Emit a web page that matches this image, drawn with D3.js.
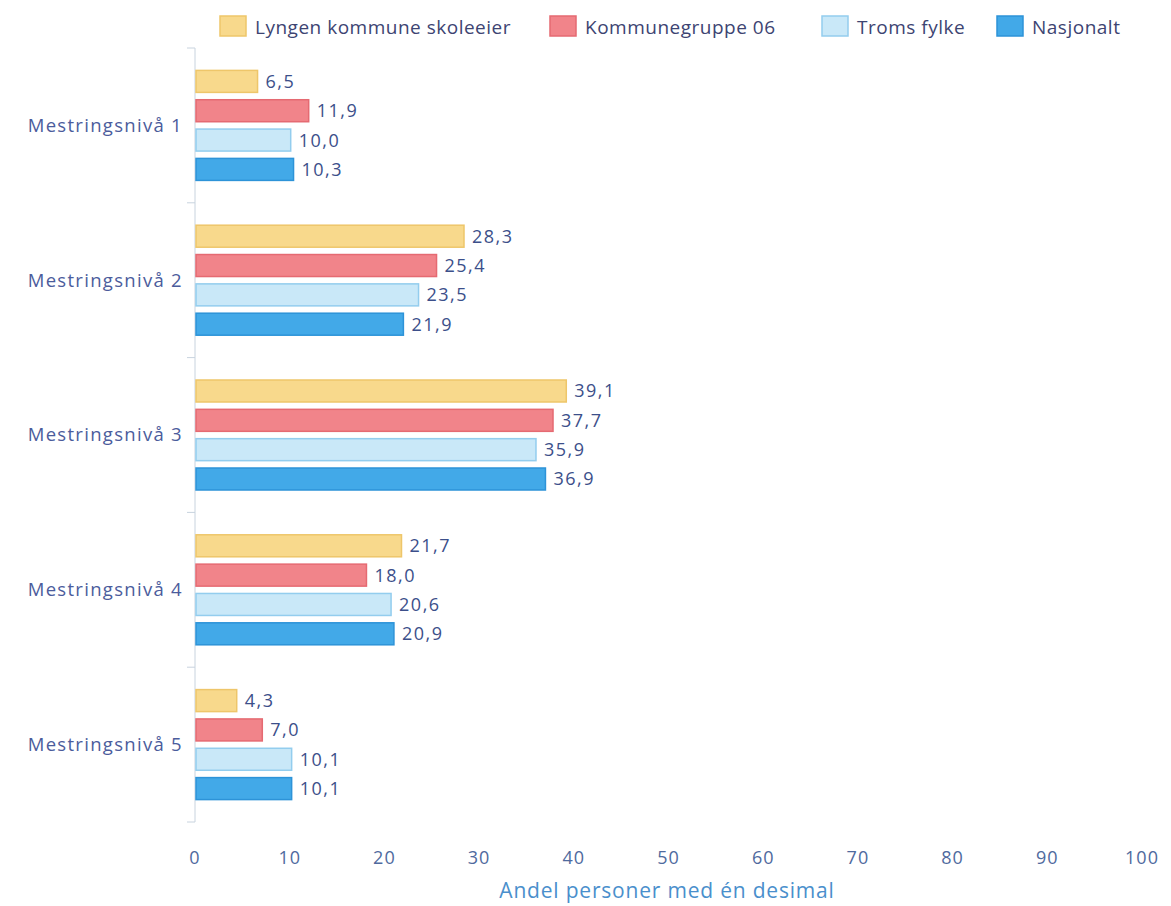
<!DOCTYPE html>
<html><head><meta charset="utf-8">
<script src="https://cdn.jsdelivr.net/npm/d3@7"></script>
<style>body{margin:0;background:#fff}svg{display:block}text{font-family:"Open Sans",sans-serif}</style>
</head><body><svg id="c" width="1171" height="906"></svg>
<script>
const categories=["Mestringsnivå 1","Mestringsnivå 2","Mestringsnivå 3","Mestringsnivå 4","Mestringsnivå 5"];
const seriesNames=["Lyngen kommune skoleeier","Kommunegruppe 06","Troms fylke","Nasjonalt"];
const lyngen=[6.5,28.3,39.1,21.7,4.3];
const kommunegruppe=[11.9,25.4,37.7,18.0,7.0];
const troms=[10.0,23.5,35.9,20.6,10.1];
const nasjonalt=[10.3,21.9,36.9,20.9,10.1];
const xTicks=[0,10,20,30,40,50,60,70,80,90,100];
const xTitle="Andel personer med én desimal";

const series=[lyngen,kommunegruppe,troms,nasjonalt];
const fills=["#f8d98c","#f1848a","#c9e8f8","#42a9e8"];
const strokes=["#eec66a","#e56a72","#93cdee","#2d93d8"];

const svg=d3.select("#c");
const x=d3.scaleLinear().domain([0,100]).range([195,1142]);
const y=d3.scaleBand().domain(categories).range([48,822]);
const inner=d3.scaleBand().domain(d3.range(4)).range([y.bandwidth()/2-55,y.bandwidth()/2+55]).paddingInner(0.25);

svg.append("line").attr("x1",x(0)).attr("x2",x(0)).attr("y1",48).attr("y2",822).attr("stroke","#c8d3de").attr("stroke-width",1);
const bounds=categories.map(c=>y(c)).concat([822]);
svg.selectAll(".ct").data(bounds).join("line").attr("x1",x(0)-8).attr("x2",x(0)).attr("y1",d=>d).attr("y2",d=>d).attr("stroke","#c8d3de");

svg.selectAll(".cl").data(categories).join("text")
 .attr("x",x(0)-12).attr("y",c=>y(c)+y.bandwidth()/2).attr("dy","0.35em")
 .attr("text-anchor","end").attr("font-size",18.5).attr("letter-spacing","1.3").attr("fill","#4b5c9c").text(c=>c);

const g=svg.selectAll(".cat").data(categories).join("g").attr("transform",c=>`translate(0,${y(c)})`);
series.forEach((s,si)=>{
  g.append("rect").attr("x",x(0)+1).attr("y",inner(si)).attr("height",inner.bandwidth())
   .attr("width",(c,i)=>x(s[i])-x(0)).attr("fill",fills[si]).attr("stroke",strokes[si]).attr("stroke-width",1.5);
  g.append("text").attr("x",(c,i)=>x(s[i])+9).attr("y",inner(si)+inner.bandwidth()/2).attr("dy","0.36em")
   .attr("font-size",18).attr("fill","#3c4f8a").attr("letter-spacing","1.5")
   .text((c,i)=>d3.format(".1f")(s[i]).replace(".",","));
});

svg.selectAll(".xt").data(xTicks).join("text").attr("x",d=>x(d)).attr("y",864)
 .attr("text-anchor","middle").attr("font-size",18).attr("letter-spacing","1").attr("fill","#4f6a9e").text(d=>d);
svg.append("text").attr("x",667).attr("y",898).attr("text-anchor","middle").attr("font-size",21).attr("letter-spacing","0.8")
 .attr("fill","#4a8fcc").text(xTitle);

const legX=[220,550,822,997];
seriesNames.forEach((n,i)=>{
  svg.append("rect").attr("x",legX[i]).attr("y",16).attr("width",26).attr("height",20).attr("fill",fills[i]).attr("stroke",strokes[i]).attr("stroke-width",1.5);
  svg.append("text").attr("x",legX[i]+35).attr("y",27).attr("dy","0.35em").attr("font-size",19).attr("letter-spacing","0.5").attr("fill","#3d4472").text(n);
});
</script></body></html>
